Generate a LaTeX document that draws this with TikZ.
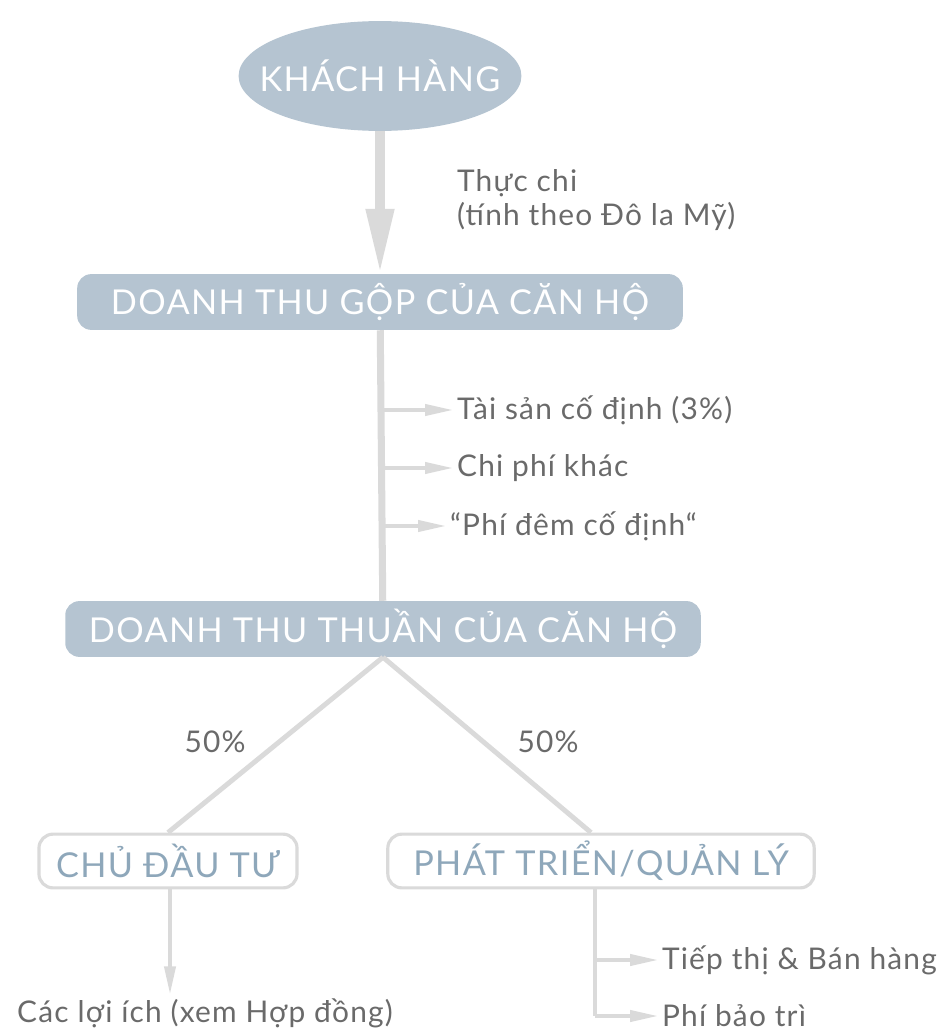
\documentclass[tikz,border=0pt]{standalone}
\usepackage{fontspec}
\setmainfont{Lato}[LetterSpace=4]
\usetikzlibrary{arrows.meta,shapes.geometric}
\definecolor{boxblue}{HTML}{B5C4D1}
\definecolor{linegray}{HTML}{DADADA}
\definecolor{txtgray}{HTML}{6A6A6A}
\definecolor{headblue}{HTML}{8EA7BA}

\begin{document}
\begin{tikzpicture}[x=0.02cm, y=-0.02cm,
  every node/.style={font=\fontsize{17}{19.5}\selectfont, text=txtgray},
  head/.style={font=\fontsize{19.5}{22}\selectfont, text=white, fill=boxblue, inner sep=0pt},
  bluebox/.style={head, rounded corners=8pt, minimum height=31.75pt},
  whitebox/.style={head, fill=white, text=headblue, draw=linegray, line width=1.8pt, rounded corners=8pt, minimum height=30.6pt},
  item/.style={anchor=west, align=left, inner sep=1pt},
  flow/.style={draw=linegray, line width=2.8pt},
  tip/.style={flow, -{Triangle[length=17pt, width=6pt]}}]
  \useasboundingbox (0,0) rectangle (944,1034);
  % top
  \node[head, ellipse, inner xsep=-12pt, inner ysep=13pt, minimum width=161pt] (khach) at (380,76) {KHÁCH HÀNG};
  \node[bluebox, minimum width=344.7pt] (gop) at (380,302) {DOANH THU GỘP CỦA CĂN HỘ};
  \draw[draw=linegray, line width=5.6pt, -{Triangle[length=37pt, width=15pt]}] (khach) -- (gop);
  \node[item] (thuc) at (455,200) {Thực chi\\(tính theo Đô la Mỹ)};
  % deductions
  \node[bluebox, minimum width=361.7pt] (thuan) at (383,629) {DOANH THU THUẦN CỦA CĂN HỘ};
  \draw[flow, line width=4pt] (gop) -- (thuan);
  \node[item] (tai) at (455,410) {Tài sản cố định (3\%)};
  \node[item] (chi) at (455,468) {Chi phí khác};
  \node[item] (dem) at (448,526) {“Phí đêm cố định“};
  \foreach \n/\y in {tai/410, chi/468, dem/526}
    \draw[tip] (380,\y) -- (\n.west);
  % split
  \node[whitebox, minimum width=146.9pt] (cdt) at (168,861) {CHỦ ĐẦU TƯ};
  \node[whitebox, minimum width=242.7pt] (ptql) at (601,861) {PHÁT TRIỂN/QUẢN LÝ};
  \draw[flow] (thuan.south) -- (cdt.north);
  \draw[flow] (thuan.south) -- ([xshift=-5.7pt]ptql.north);
  \node (p1) at (215,742) {50\%};
  \node (p2) at (548,742) {50\%};
  % bottom
  \node[inner sep=1pt] (loi) at (205,1013) {Các lợi ích (xem Hợp đồng)};
  \draw[tip] (cdt.south -| 170,0) -- (loi.north -| 170,0);
  \node[item] (tiep) at (660,960) {Tiếp thị \& Bán hàng};
  \node[item] (bao) at (660,1016) {Phí bảo trì};
  \coordinate (j1) at (595,960);
  \coordinate (j2) at (595,1016);
  \draw[flow] (ptql.south -| j1) -- (j2);
  \draw[tip] (j1) -- (tiep.west);
  \draw[tip] (j2) -- (bao.west);
\end{tikzpicture}
\end{document}
